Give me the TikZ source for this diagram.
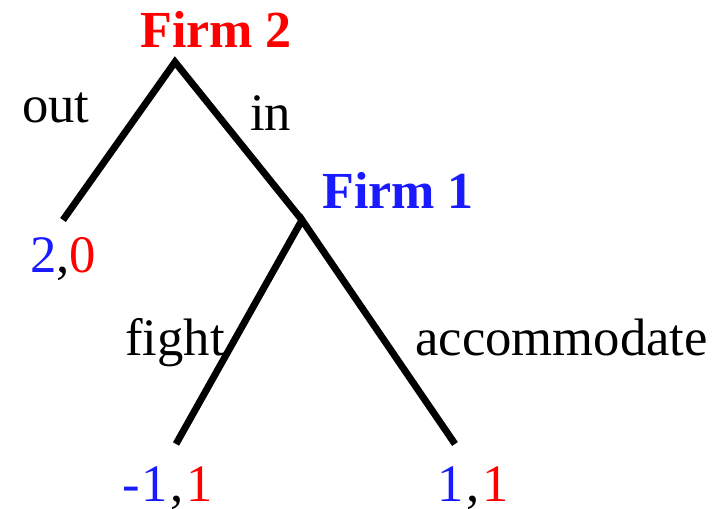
\documentclass[tikz,border=0pt]{standalone}
\usepackage{fontspec}
\setmainfont{Liberation Serif}
\definecolor{pblue}{HTML}{1A1AFF}
\definecolor{pred}{HTML}{FF0000}
\begin{document}
\begin{tikzpicture}[x=0.75pt,y=-0.75pt,
  lbl/.style={anchor=base west,inner sep=0pt,font=\fontsize{39.5}{44}\selectfont},
  player/.style={anchor=base west,inner sep=0pt,font=\fontsize{39}{44}\selectfont\bfseries},
  branch/.style={line width=5.2pt}]
\useasboundingbox (0,0) rectangle (721,508);
\coordinate (f2) at (175,62);
\coordinate (t1) at (63,220);
\coordinate (f1) at (302,220);
\coordinate (t2) at (176,444);
\coordinate (t3) at (455,444);
\draw[branch] (t1) -- (f2) -- (f1);
\draw[branch] (t2) -- (f1) -- (t3);
\node[player,text=pred] (n2) at (140,47) {Firm 2};
\node[player,text=pblue] (n1) at (322,208) {Firm 1};
\node[lbl] (out) at (22,122) {out};
\node[lbl] (in) at (250,130) {in};
\node[lbl] (fight) at (125,355) {fight};
\node[lbl] (acc) at (415,355) {accommodate};
\node[lbl] (p1) at (30,272) {\textcolor{pblue}{2},\textcolor{pred}{0}};
\node[lbl] (p2) at (122,501) {\textcolor{pblue}{-\kern1.5pt1}\kern2pt,\kern2pt\textcolor{pred}{1}};
\node[lbl] (p3) at (437,501) {\textcolor{pblue}{1}\kern2pt,\kern2pt\textcolor{pred}{1}};
\end{tikzpicture}
\end{document}
